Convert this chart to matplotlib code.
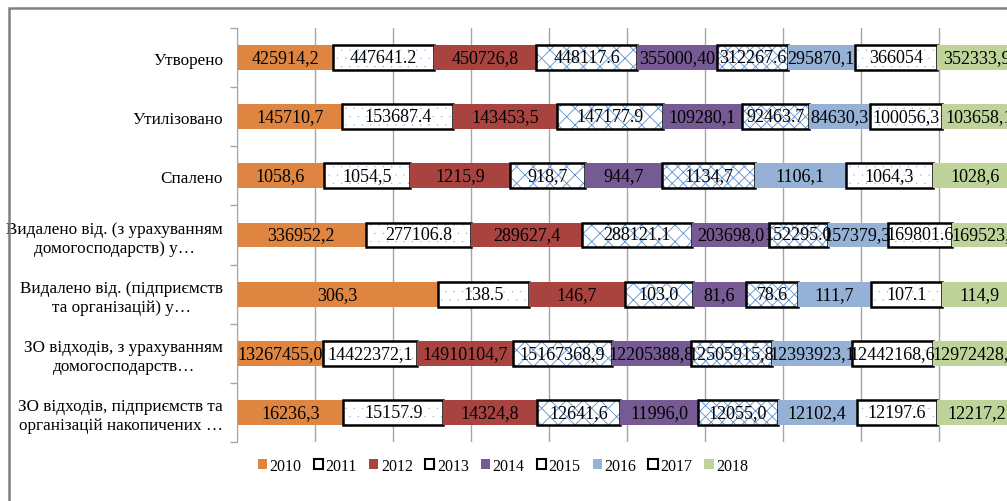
import numpy as np
import matplotlib
matplotlib.use('Agg')
import matplotlib.pyplot as plt
import matplotlib.hatch
from matplotlib.patches import Patch, Rectangle

plt.rcParams['font.family'] = ['Liberation Serif', 'DejaVu Serif']
plt.rcParams['hatch.linewidth'] = 0.6
# tiny dots for the '.' pattern, like the Excel dotted fill
matplotlib.hatch.SmallFilledCircles.size = 0.022

categories = [
    'Утворено',
    'Утилізовано',
    'Спалено',
    'Видалено від. (з урахуванням\nдомогосподарств) у…',
    'Видалено від. (підприємств\nта організацій) у…',
    'ЗО відходів, з урахуванням\nдомогосподарств…',
    'ЗО відходів, підприємств та\nорганізацій накопичених …',
]
years = ['2010', '2011', '2012', '2013', '2014', '2015', '2016', '2017', '2018']

# values as printed on the chart (row = category, column = year)
utvoreno = ['425914,2', '447641.2', '450726,8', '448117.6', '355000,40', '312267.6', '295870,1', '366054', '352333,9']
utylizovano = ['145710,7', '153687.4', '143453,5', '147177.9', '109280,1', '92463.7', '84630,3', '100056,3', '103658,1']
spaleno = ['1058,6', '1054,5', '1215,9', '918,7', '944,7', '1134,7', '1106,1', '1064,3', '1028,6']
vydaleno_dom = ['336952,2', '277106.8', '289627,4', '288121.1', '203698,0', '152295.0', '157379,3', '169801.6', '169523,8']
vydaleno_pidpr = ['306,3', '138.5', '146,7', '103.0', '81,6', '78.6', '111,7', '107.1', '114,9']
zo_dom = ['13267455,0', '14422372,1', '14910104,7', '15167368,9', '12205388,8', '12505915,8', '12393923,1', '12442168,6', '12972428,5']
zo_pidpr = ['16236,3', '15157.9', '14324,8', '12641,6', '11996,0', '12055,0', '12102,4', '12197.6', '12217,2']

rows = [utvoreno, utylizovano, spaleno, vydaleno_dom, vydaleno_pidpr, zo_dom, zo_pidpr]

colors = ['#DE8541', None, '#A9433F', None, '#765A93', None, '#95B1D6', None, '#BED39A']
hatches = [None, '..', None, 'xx', None, 'xxx', None, '..', None]
hatch_blue = '#5B8FD0'

vals = np.array([[float(s.replace(',', '.')) for s in r] for r in rows])
pct = vals / vals.sum(axis=1, keepdims=True) * 100
cum = np.hstack([np.zeros((len(rows), 1)), np.cumsum(pct, axis=1)[:, :-1]])

fig = plt.figure(figsize=(10.07, 5.02), dpi=100)
# outer chart frame (right and bottom edges are cut off in the original)
fig.add_artist(Rectangle((9 / 1007, -0.2), 1.5, 1.2 - 9.3 / 502, transform=fig.transFigure,
                         fill=False, ec='#808080', lw=1.8))

ax = fig.add_axes([237 / 1007, (502 - 443) / 502, 780 / 1007, 414 / 502])
y = np.arange(len(categories))

for j, year in enumerate(years):
    left = cum[:, j]
    width = pct[:, j]
    if hatches[j] is None:
        ax.barh(y, width, left=left, height=0.42, color=colors[j], lw=0)
    else:
        ax.barh(y, width, left=left, height=0.42, facecolor='white',
                edgecolor=hatch_blue, hatch=hatches[j], lw=0)
        ax.barh(y, width, left=left, height=0.42, fill=False, edgecolor='black', lw=1.8)
    for i in range(len(categories)):
        ax.text(left[i] + width[i] / 2, y[i], rows[i][j], ha='center', va='center',
                fontsize=13, color='black')

ax.set_xlim(0, 100)
ax.set_ylim(len(categories) - 0.5, -0.5)
ax.set_xticks(np.arange(0, 101, 10))
ax.tick_params(axis='x', length=0, labelbottom=False)
ax.xaxis.grid(True, color='#A6A6A6', lw=1)
ax.set_axisbelow(True)

ax.set_yticks(y)
ax.set_yticklabels(categories, fontsize=12.3, multialignment='center', linespacing=1.25)
ax.set_yticks(np.arange(-0.5, len(categories)), minor=True)
ax.tick_params(axis='y', which='major', length=0, pad=10)
ax.tick_params(axis='y', which='minor', length=5, color='#A6A6A6', width=1)

for s in ['top', 'right', 'bottom']:
    ax.spines[s].set_visible(False)
ax.spines['left'].set_color('#A6A6A6')

handles = []
for j, year in enumerate(years):
    if hatches[j] is None:
        handles.append(Patch(facecolor=colors[j], edgecolor='none', label=year))
    else:
        handles.append(Patch(facecolor='white', edgecolor='black', lw=1.5, label=year))
fig.legend(handles=handles, loc='center', bbox_to_anchor=(503 / 1007, 1 - 467 / 502),
           ncol=9, frameon=False, fontsize=11.5, handlelength=0.6, handleheight=0.6,
           handletextpad=0.15, columnspacing=0.75)

fig.savefig('out.png', dpi=100)
